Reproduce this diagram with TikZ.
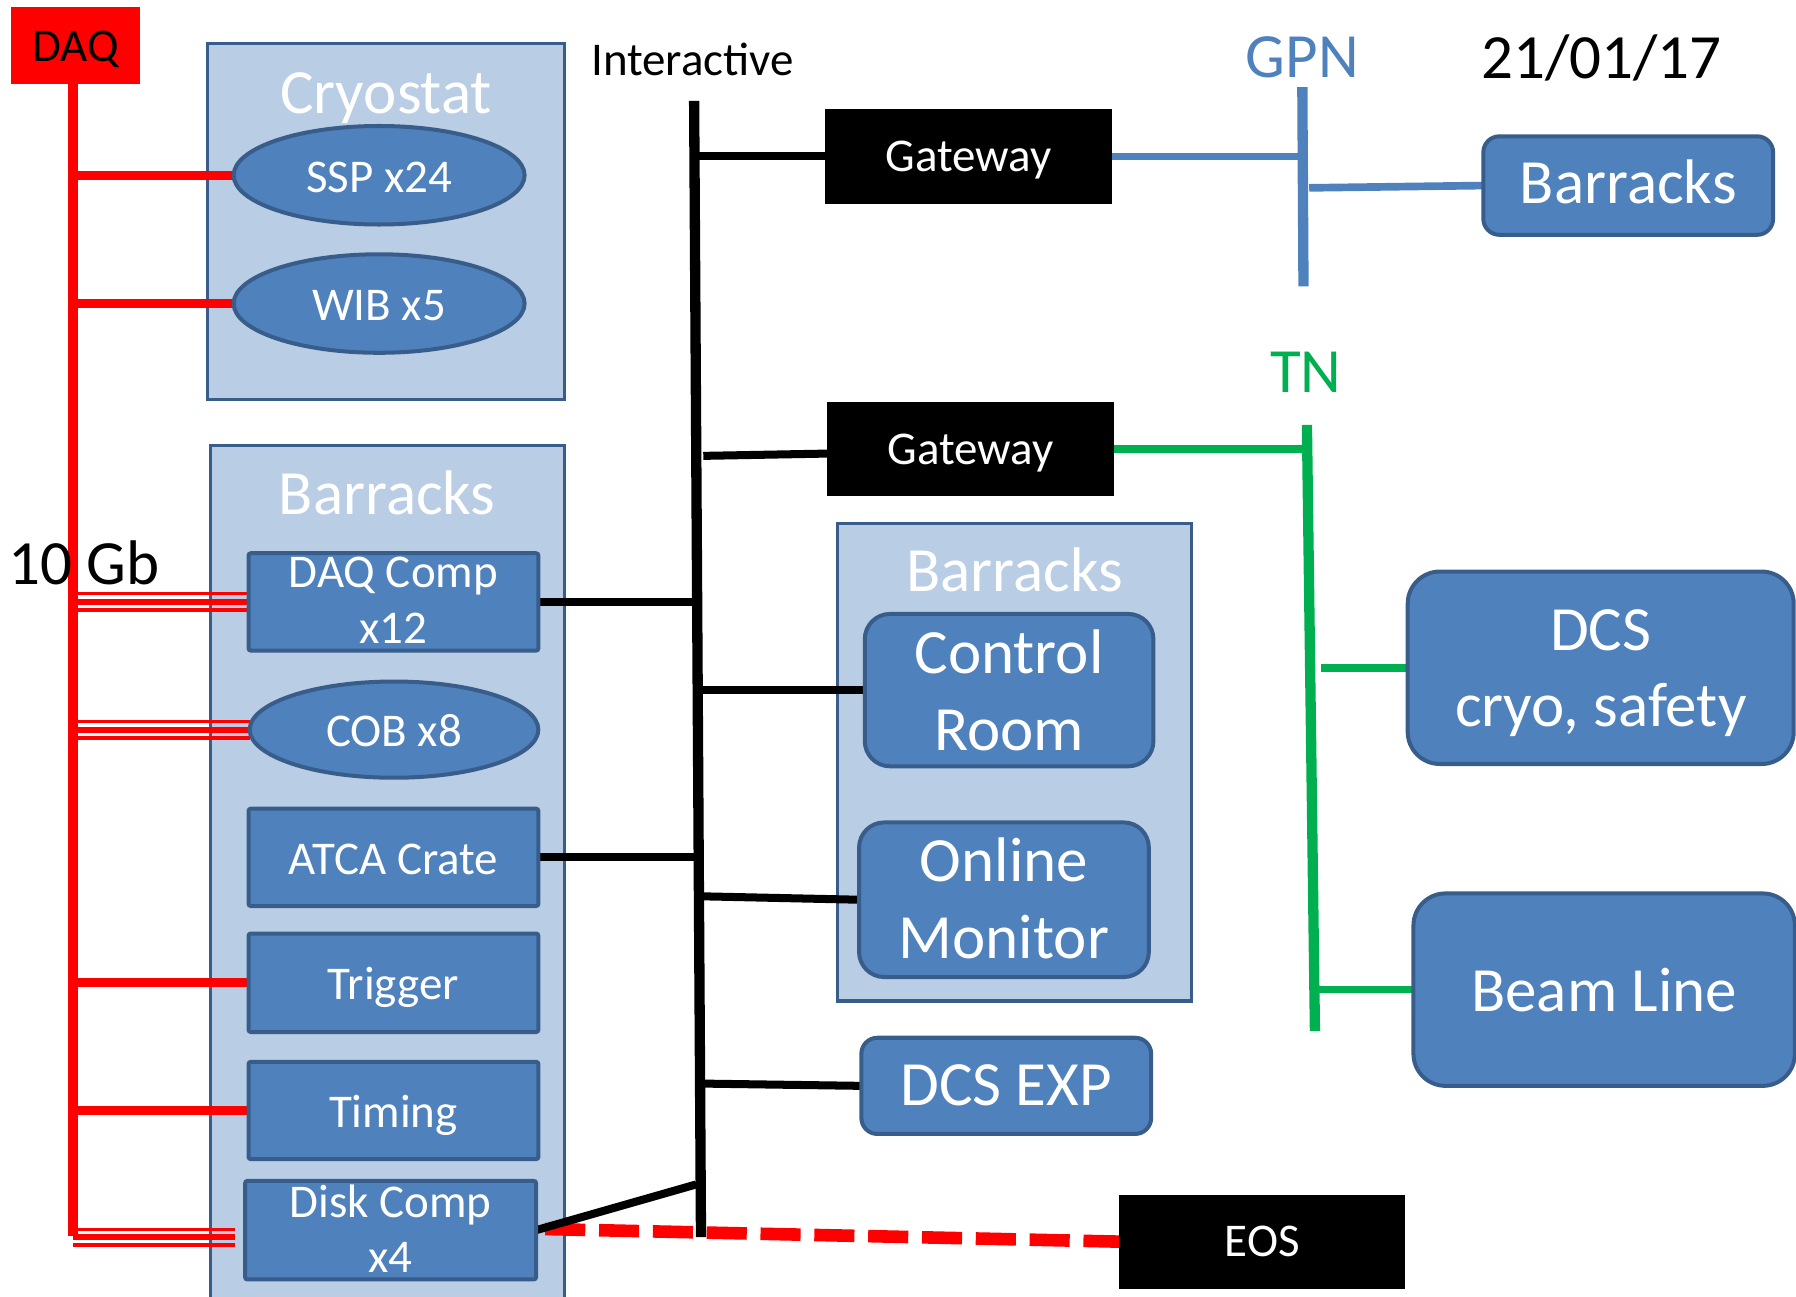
\documentclass[tikz,border=0pt]{standalone}
\usepackage{fontspec}
\setmainfont{Carlito}
\usetikzlibrary{shapes.geometric,calc,backgrounds}

\definecolor{boxblue}{HTML}{4F81BD}
\definecolor{boxedge}{HTML}{385D8A}
\definecolor{paleblue}{HTML}{B9CDE5}
\definecolor{netgreen}{HTML}{00B050}
\definecolor{daqred}{HTML}{FF0000}

\tikzset{
  txtS/.style={font=\fontsize{41}{49}\selectfont},
  txtL/.style={font=\fontsize{55}{66}\selectfont},
  unitnode/.style={draw=boxedge, fill=boxblue, line width=3.5pt, text=white,
    inner sep=0pt, outer sep=0pt, text depth=0pt},
  unitbox/.style={unitnode, rectangle, rounded corners=2pt, minimum width=253pt,
    minimum height=86pt, txtS, text height=30pt},
  unitoval/.style={unitnode, ellipse, minimum width=254pt, minimum height=86pt,
    txtS, text height=30pt},
  softbox/.style={unitnode, rectangle, rounded corners=#1, txtL, text height=34pt},
  zone/.style={draw=boxedge, fill=paleblue, line width=3pt, rectangle,
    inner sep=0pt, outer sep=0pt},
  zonetitle/.style={text=white, txtL, anchor=base, inner sep=0pt},
  whiteline/.style={text=white, anchor=base, inner sep=0pt},
  gatebox/.style={fill=black, text=white, txtS, inner sep=0pt, outer sep=0pt,
    text height=27pt, text depth=0pt},
  freetext/.style={anchor=base, inner sep=0pt, txtL},
  daqbus/.style={draw=daqred, line width=8.5pt},
  daqlink/.style={draw=daqred, line width=7.5pt},
  iactbus/.style={draw=black, line width=9pt},
  iactlink/.style={draw=black, line width=7pt},
  gpnlink/.style={draw=boxblue, line width=6.7pt},
  gpnbar/.style={draw=boxblue, line width=9pt},
  tnlink/.style={draw=netgreen, line width=6.5pt},
  tnbar/.style={draw=netgreen, line width=9pt},
  eoslink/.style={draw=daqred, line width=11pt, dash pattern=on 35pt off 12pt},
}

\begin{document}
\begin{tikzpicture}[x=1pt,y=-1pt]
\useasboundingbox (0,0) rectangle (1568,1132);

% ---- enclosing areas ----
\begin{scope}[on background layer]
  \node[zone, minimum width=312pt, minimum height=311pt] (cryozone) at (337,193.5) {};
  \node[zone, minimum width=309pt, minimum height=761pt] (barrzone) at (338.5,769.5) {};
  \node[zone, minimum width=309pt, minimum height=417pt] (ctrlzone) at (885.5,665.5) {};
\end{scope}

\node[zonetitle] (cryotitle) at (337,98.7) {Cryostat};
\node[zonetitle] (barrtitle) at (338,449.6) {Barracks};
\node[zonetitle] (ctrltitle) at (886,516) {Barracks};

% ---- DAQ side ----
\node[fill=daqred, minimum width=112pt, minimum height=67pt, inner sep=0pt,
      txtS, text height=28.5pt, text depth=0pt] (daq) at (66,39.5) {DAQ};
\node[unitoval] (ssp) at (331,153) {SSP x24};
\node[unitoval] (wib) at (331,265) {WIB x5};
\node[unitbox, minimum height=85pt] (daqcomp) at (343.5,525.5) {};
\node[whiteline, txtS] (daqcomp-a) at (343.5,513) {DAQ Comp};
\node[whiteline, txtS] (daqcomp-b) at (343.5,562) {x12};
\node[unitoval, minimum width=252pt, minimum height=84pt] (cob) at (344,637) {COB x8};
\node[unitbox, minimum height=85pt] (atca) at (343.5,748.5) {ATCA Crate};
\node[unitbox] (trigger) at (343.5,858) {Trigger};
\node[unitbox, minimum height=85pt] (timing) at (343.5,969.5) {Timing};
\node[unitbox, minimum width=254pt] (disk) at (341,1074) {};
\node[whiteline, txtS] (disk-a) at (341,1063) {Disk Comp};
\node[whiteline, txtS] (disk-b) at (341,1111) {x4};

% ---- interactive network ----
\node[freetext, txtS, anchor=base west] (iact) at (516,65.5) {Interactive};
\node[gatebox, minimum width=251pt, minimum height=83pt] (gw1) at (845.5,136.5) {Gateway};
\node[gatebox, minimum width=251pt, minimum height=82pt] (gw2) at (847.5,392) {Gateway};

\node[softbox=22pt, minimum width=252pt, minimum height=133pt] (ctrl) at (881,602.5) {};
\node[whiteline, txtL] (ctrl-a) at (881,588) {Control};
\node[whiteline, txtL] (ctrl-b) at (881,655) {Room};
\node[softbox=22pt, minimum width=253pt, minimum height=135pt] (online) at (876.5,785.5) {};
\node[whiteline, txtL] (online-a) at (876.5,770) {Online};
\node[whiteline, txtL] (online-b) at (876.5,837) {Monitor};
\node[softbox=14pt, minimum width=253pt, minimum height=84pt] (dcsexp) at (878.5,948) {DCS EXP};
\node[gatebox, minimum width=250pt, minimum height=82pt, text height=26pt] (eos) at (1102,1084) {EOS};

% ---- GPN and TN ----
\node[freetext, text=boxblue] (gpn) at (1137,67.5) {GPN};
\node[freetext] (date) at (1398,68.4) {21/01/17};
\node[softbox=14pt, minimum width=253pt, minimum height=86pt, text height=32pt] (barrgpn) at (1421.5,162) {Barracks};
\node[freetext, text=netgreen] (tn) at (1140,342.5) {TN};
\node[softbox=28pt, minimum width=337pt, minimum height=168pt] (dcs) at (1397.5,583) {};
\node[whiteline, txtL] (dcs-a) at (1397.5,568) {DCS};
\node[whiteline, txtL] (dcs-b) at (1397.5,634) {cryo, safety};
\node[softbox=28pt, minimum width=333pt, minimum height=168pt, text height=38pt] (beam) at (1400.5,864) {Beam Line};

% ---- bus end points ----
\coordinate (daqbus-end) at (64,1079);
\coordinate (disk-in) at (205,1080);
\coordinate (ibus-top) at (606,88);
\coordinate (ibus-mid) at (609,583);
\coordinate (ibus-bot) at (612,1080);
\coordinate (disk-tap) at (608,1034);
\coordinate (gpnbar-top) at (1137,76);
\coordinate (gpnbar-bot) at (1138,250);
\coordinate (tnbar-top) at (1141,371);
\coordinate (tnbar-bot) at (1148,900);

\begin{scope}[on background layer]
  % DAQ network (red)
  \draw[daqbus] (daq.south -| daqbus-end) -- (daqbus-end);
  \draw[daqlink] (ssp.west -| daqbus-end) -- (ssp.west);
  \draw[daqlink] (wib.west -| daqbus-end) -- (wib.west);
  \draw[daqlink] (trigger.west -| daqbus-end) -- (trigger.west);
  \draw[daqlink] (timing.west -| daqbus-end) -- (timing.west);
  \foreach \dy/\lw in {-7/2.6, 0/5.2, 7/3.6} {
    \draw[draw=daqred, line width=\lw pt] ($(daqcomp.west -| daqbus-end)+(0,\dy)$) -- ($(daqcomp.west)+(0,\dy)$);
    \draw[draw=daqred, line width=\lw pt] ($(cob.west -| daqbus-end)+(0,\dy)$) -- ($(cob.west)+(0,\dy)$);
    \draw[draw=daqred, line width=\lw pt] ($(disk-in -| daqbus-end)+(0,\dy)$) -- ($(disk-in)+(0,\dy)$);
  }
  \draw[eoslink] ($(disk.east)+(8,-1)$) -- (eos.west);

  % interactive network (black)
  \draw[iactbus] (ibus-top) -- (ibus-bot);
  \draw[iactlink] (gw1.west) -- (gw1.west -| ibus-top);
  \draw[iactlink] ($(gw2.west)+(0,4)$) -- ($(gw2.west)+(-108,6)$);
  \draw[iactlink] (daqcomp.east) -- (daqcomp.east -| ibus-mid);
  \draw[iactlink] (atca.east) -- (atca.east -| ibus-mid);
  \draw[iactlink] (disk.east) -- (disk-tap);
  \draw[iactlink] (ctrl.west) -- (ctrl.west -| ibus-bot);
  \draw[iactlink] (online.west) -- ($(online.west -| ibus-bot)+(0,-3)$);
  \draw[iactlink] (dcsexp.west) -- ($(dcsexp.west -| ibus-bot)+(0,-2)$);

  % GPN (blue)
  \draw[gpnlink] (gw1.east) -- ($(gw1.east -| gpnbar-top)+(4,0)$);
  \draw[gpnbar] (gpnbar-top) -- (gpnbar-bot);
  \draw[gpnlink] (barrgpn.west) -- ($(barrgpn.west -| gpnbar-top)+(6,2)$);

  % TN (green)
  \draw[tnlink] (gw2.east) -- (gw2.east -| tnbar-top);
  \draw[tnbar] (tnbar-top) -- (tnbar-bot);
  \draw[tnlink] (dcs.west) -- ($(dcs.west -| tnbar-top)+(12,0)$);
  \draw[tnlink] (beam.west) -- ($(beam.west -| tnbar-top)+(6,0)$);
\end{scope}

\node[freetext, anchor=base west] (tengb) at (7,510.7) {10 Gb};
\end{tikzpicture}
\end{document}
